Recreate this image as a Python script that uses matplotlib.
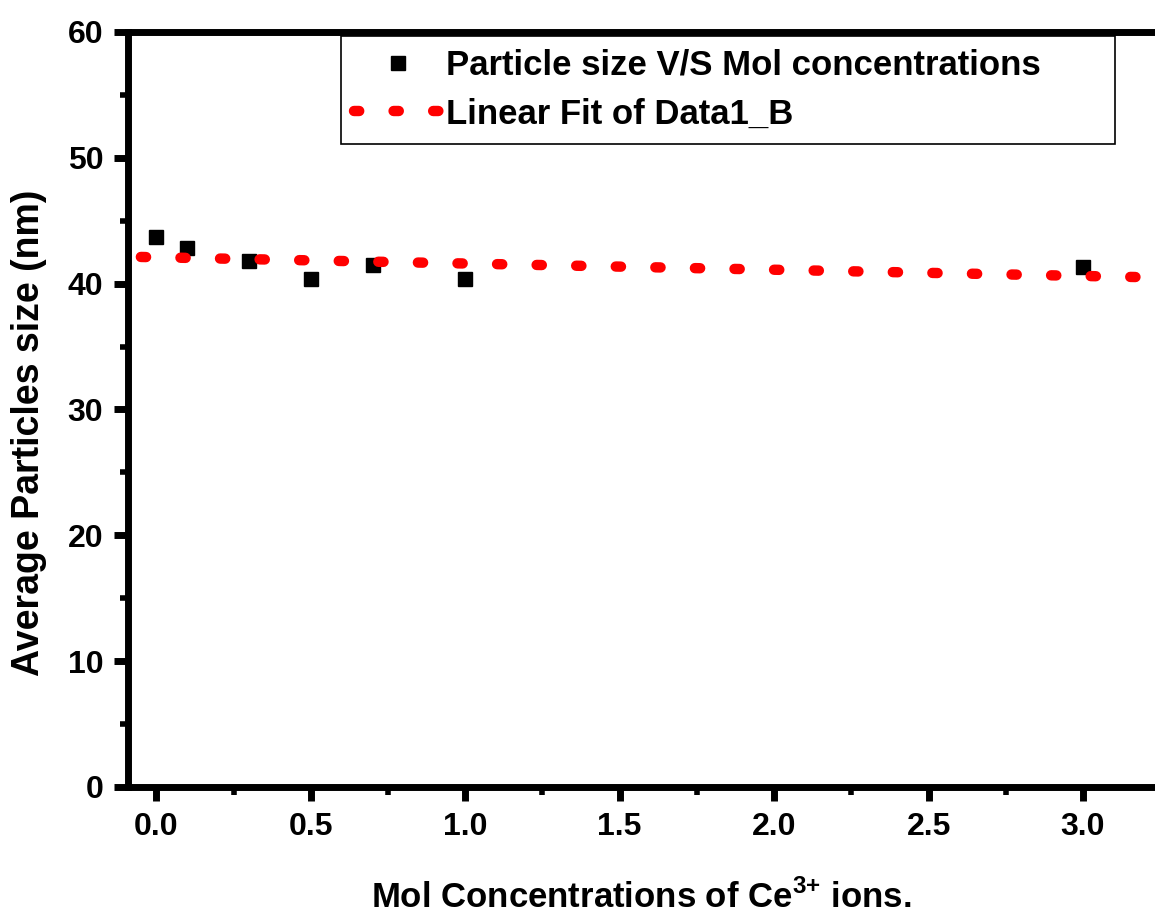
import numpy as np
import matplotlib
matplotlib.use("Agg")
import matplotlib.pyplot as plt
from matplotlib.ticker import MultipleLocator

conc = [0.0, 0.1, 0.3, 0.5, 0.7, 1.0, 3.0]
size_nm = [43.7, 42.8, 41.8, 40.4, 41.5, 40.4, 41.3]
x_ticks = [0.0, 0.5, 1.0, 1.5, 2.0, 2.5, 3.0]
y_ticks = [0, 10, 20, 30, 40, 50, 60]

plt.rcParams['font.family'] = ['Liberation Sans', 'DejaVu Sans']
plt.rcParams['mathtext.fontset'] = 'custom'
plt.rcParams['mathtext.rm'] = 'Liberation Sans'
plt.rcParams['mathtext.bf'] = 'Liberation Sans:bold'

fig = plt.figure(figsize=(11.55, 9.14), dpi=100)
ax = fig.add_axes([0.111, 0.139, 0.889, 0.826])

slope, intercept = np.polyfit(conc, size_nm, 1)
xf = np.linspace(-0.05, 3.3, 200)
ax.plot(conc, size_nm, 's', color='black', markersize=10,
        label='Particle size V/S Mol concentrations', zorder=2, clip_on=False)
ax.plot(xf, intercept + slope * xf, color='red', lw=7.5, linestyle=(0, (0.5, 3.3)),
        dash_capstyle='round', label='Linear Fit of Data1_B', zorder=3)

ax.set_xlim(-0.091, 3.233)
ax.set_ylim(0, 60)
ax.set_xticks(x_ticks)
ax.set_xticklabels([f"{v:.1f}" for v in x_ticks])
ax.set_yticks(y_ticks)
ax.xaxis.set_minor_locator(MultipleLocator(0.25))
ax.yaxis.set_minor_locator(MultipleLocator(5))

for s in ['left', 'bottom', 'top']:
    ax.spines[s].set_linewidth(5)
ax.spines['right'].set_visible(False)
ax.tick_params(which='major', direction='out', length=10, width=5, labelsize=23, pad=8)
ax.tick_params(which='minor', direction='out', length=6, width=4)
ax.tick_params(top=False, right=False, which='both')
for lab in ax.get_xticklabels() + ax.get_yticklabels():
    lab.set_fontweight('bold')

ax.set_xlabel('Mol Concentrations of Ce$^{\\mathbf{3{+}}}$ ions.', fontsize=25,
              fontweight='bold', labelpad=27)
ax.set_ylabel('Average Particles size (nm)', fontsize=27, fontweight='bold')
ax.yaxis.set_label_coords(-0.079, 0.469)

leg = ax.legend(loc='upper left', bbox_to_anchor=(0.2075, 0.985, 0.7535, 0.01), mode='expand',
                frameon=True, fancybox=False, framealpha=1, edgecolor='black',
                prop={'weight': 'bold', 'size': 25},
                handlelength=2.5, handletextpad=0.15, borderpad=0.38, labelspacing=0.45,
                borderaxespad=0.0)
leg.get_frame().set_linewidth(1.2)

fig.savefig('out.png', dpi=100)
